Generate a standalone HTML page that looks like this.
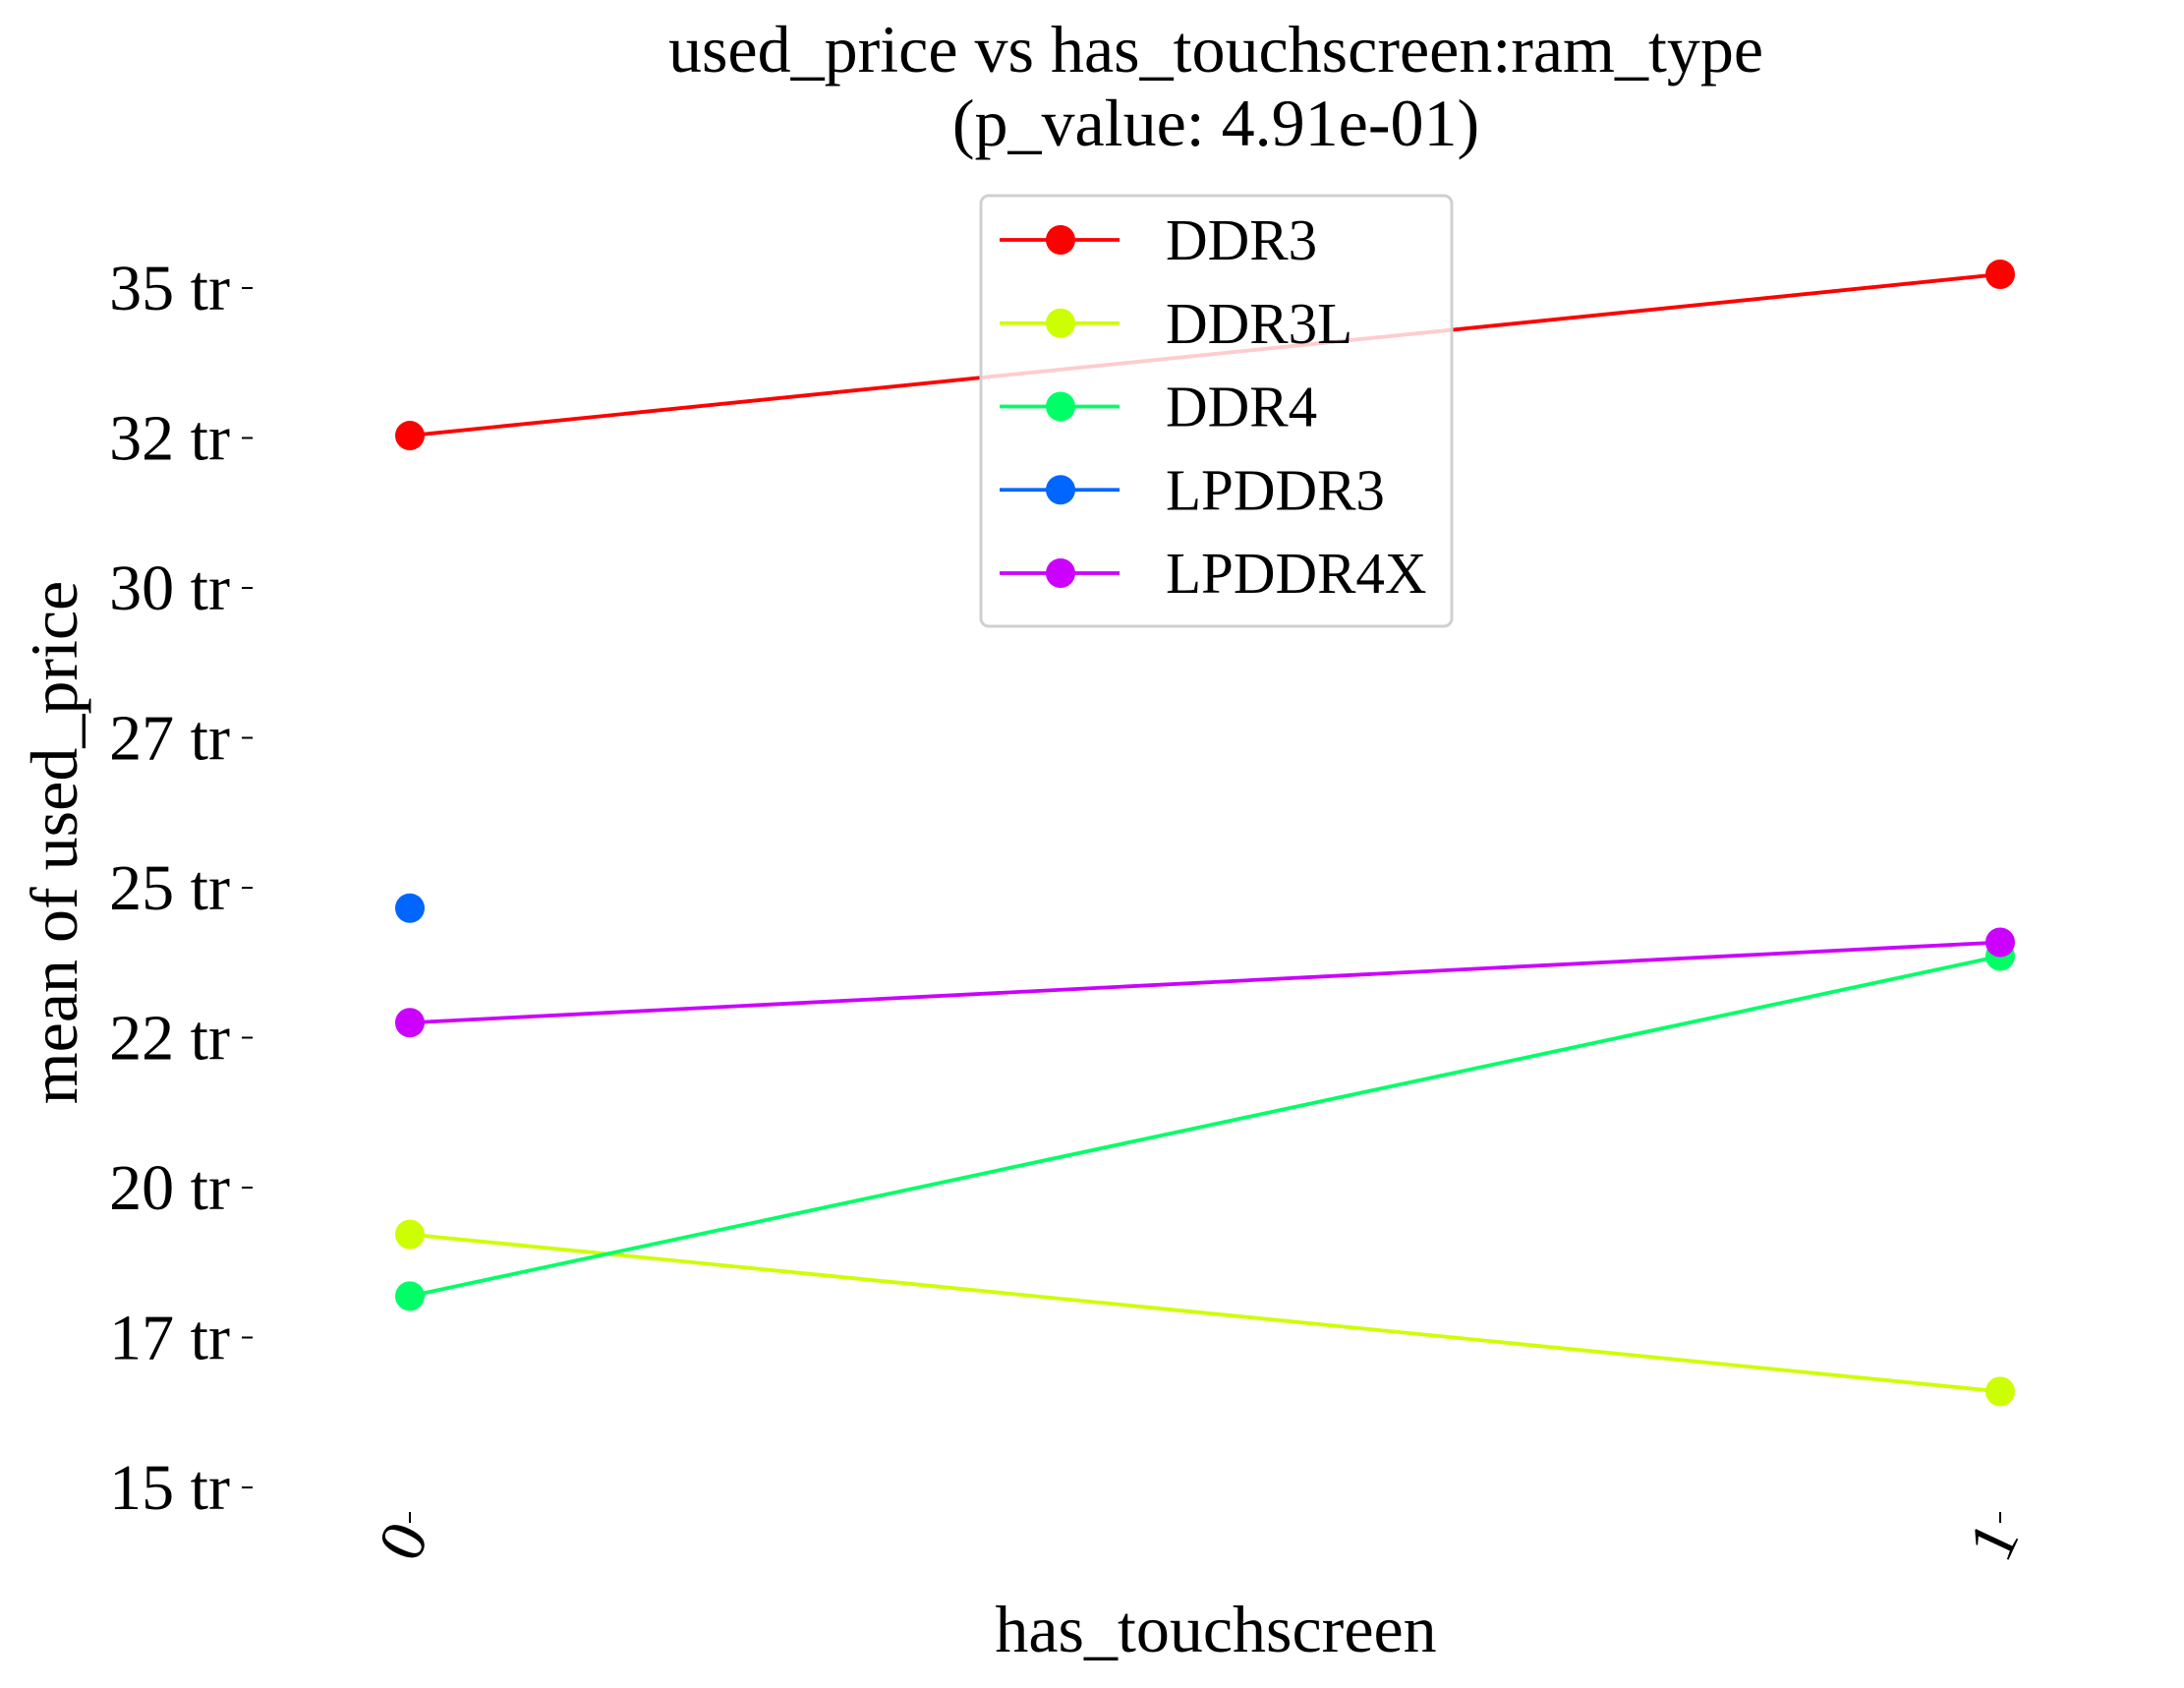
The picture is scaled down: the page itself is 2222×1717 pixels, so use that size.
<!DOCTYPE html>
<html><head><meta charset="utf-8"><style>
html,body{margin:0;padding:0;background:#fff}
svg{display:block;font-family:"Liberation Serif",serif}
</style></head><body>
<svg id="chart" width="2222" height="1717" viewBox="0 0 2222 1717" xmlns="http://www.w3.org/2000/svg">
<text x="1237" y="73" font-size="68" text-anchor="middle">used_price vs has_touchscreen:ram_type</text>
<text x="1237" y="148" font-size="68" text-anchor="middle">(p_value: 4.91e-01)</text>
<text x="1237" y="1680" font-size="68" text-anchor="middle">has_touchscreen</text>
<text transform="translate(78,857) rotate(-90)" font-size="68" text-anchor="middle">mean of used_price</text>
<g id="yaxis"></g>
<g id="xaxis"></g>
<g id="series"></g>
<g id="legend"></g>
</svg>
<script>
const categories = ["0", "1"];
const seriesNames = ["DDR3", "DDR3L", "DDR4", "LPDDR3", "LPDDR4X"];
const seriesColors = ["#ff0000", "#ccff00", "#00ff66", "#0066ff", "#cc00ff"];
const ddr3 = [32540, 35230];
const ddr3l = [19220, 16600];
const ddr4 = [18190, 23860];
const lpddr3 = [24660, null];
const lpddr4x = [22750, 24090];
const yTicks = [15000, 17500, 20000, 22500, 25000, 27500, 30000, 32500, 35000];
const yTickLabels = ["15 tr", "17 tr", "20 tr", "22 tr", "25 tr", "27 tr", "30 tr", "32 tr", "35 tr"];

const allSeries = [ddr3, ddr3l, ddr4, lpddr3, lpddr4x];
const NS = "http://www.w3.org/2000/svg";
function yPos(v){ return 1513 - (v - 15000) / 20000 * 1220; }
function xPos(i){ return 417 + i * (2035 - 417) / (categories.length - 1); }
function mk(tag, attrs, parent){ const e = document.createElementNS(NS, tag); for (const k in attrs) e.setAttribute(k, attrs[k]); parent.appendChild(e); return e; }

const ya = document.getElementById('yaxis');
yTicks.forEach((t, i) => {
  const y = yPos(t);
  const tk = mk('line', {x1: 246, x2: 257, y1: y, y2: y, stroke: '#000', 'stroke-width': 2}, ya);
  
  
  const tx = mk('text', {x: 234, y: y + 22, 'font-size': 66, 'text-anchor': 'end'}, ya);
  tx.textContent = yTickLabels[i];
  
  
});
const xa = document.getElementById('xaxis');
categories.forEach((c, i) => {
  const x = xPos(i);
  const tk = mk('line', {x1: x, x2: x, y1: 1538, y2: 1549, stroke: '#000', 'stroke-width': 2}, xa);
  
  
  const tx = mk('text', {x: 0, y: 0, 'font-size': 66, 'text-anchor': 'end', transform: `translate(${x + 20},${1562}) rotate(-65)`}, xa);
  tx.textContent = c;
  
  
});
const sg = document.getElementById('series');
allSeries.forEach((s, si) => {
  const col = seriesColors[si];
  const pts = [];
  s.forEach((v, i) => { if (v !== null) pts.push([xPos(i), yPos(v)]); });
  if (pts.length > 1) {
    const pl = mk('polyline', {points: pts.map(p => p.join(',')).join(' '), fill: 'none', stroke: col, 'stroke-width': 3.8}, sg);
    
    
  }
  pts.forEach(p => {
    const c = mk('circle', {cx: p[0], cy: p[1], r: 15, fill: col}, sg);
    
    
  });
});
const lg = document.getElementById('legend');
const box = mk('rect', {x: 998, y: 199, width: 479, height: 438, rx: 8, fill: 'rgba(255,255,255,0.8)', stroke: '#d0d0d0', 'stroke-width': 3}, lg);


seriesNames.forEach((n, i) => {
  const y = 244 + i * 84.75;
  const g = mk('g', {}, lg);
  
  
  mk('line', {x1: 1017, x2: 1139, y1: y, y2: y, stroke: seriesColors[i], 'stroke-width': 3.8}, g);
  mk('circle', {cx: 1079, cy: y, r: 15, fill: seriesColors[i]}, g);
  const t = mk('text', {x: 1186, y: y + 20, 'font-size': 59}, g);
  t.textContent = n;
});
</script>
</body></html>
